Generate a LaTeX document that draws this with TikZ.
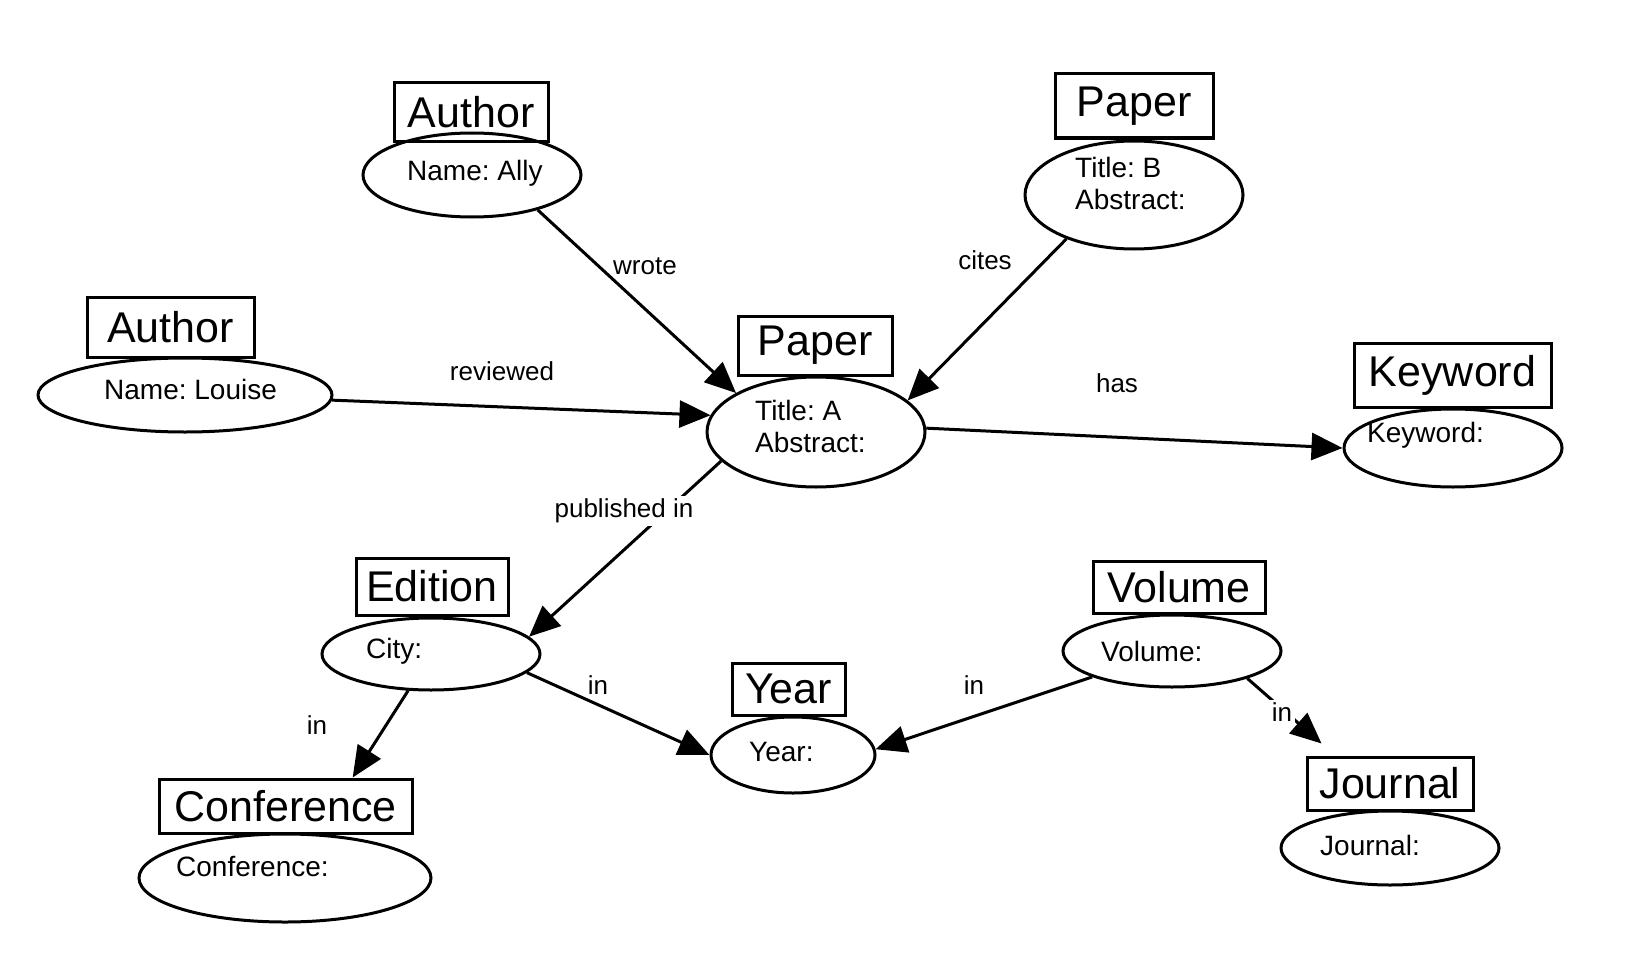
\documentclass[tikz,border=0pt]{standalone}
\usepackage{fontspec}
\setmainfont{Liberation Sans}
\usetikzlibrary{shapes.geometric,arrows.meta}
\begin{document}
\frenchspacing
\begin{tikzpicture}[x=1pt,y=-1pt,
 box/.style={draw, line width=3pt, inner sep=0pt, font=\fontsize{43}{50}\selectfont},
 ell/.style={draw, ellipse, line width=3pt, inner sep=0pt},
 etxt/.style={anchor=west, inner sep=0pt, font=\fontsize{28}{32}\selectfont, align=left},
 lbl/.style={font=\fontsize{26}{30}\selectfont, inner sep=3pt},
 arr/.style={line width=3pt, -{Triangle[length=31pt,width=27pt]}}]
\useasboundingbox (0,0) rectangle (1640,979);

% type boxes
\node[box, minimum width=154pt, minimum height=58pt] (abox) at (471,112) {Author};
\node[box, minimum width=167pt, minimum height=60pt] (lbox) at (170.5,327) {Author};
\node[box, minimum width=154pt, minimum height=59pt] (pabox) at (815,345.5) {Paper};
\node[box, minimum width=158pt, minimum height=64pt] (pbbox) at (1134,106) {Paper};
\node[box, minimum width=197pt, minimum height=64pt] (kbox) at (1452.5,375) {Keyword};
\node[box, minimum width=152pt, minimum height=57pt] (ebox) at (432,586.5) {Edition};
\node[box, minimum width=113pt, minimum height=52pt] (ybox) at (788.5,689) {Year};
\node[box, minimum width=172pt, minimum height=52pt] (vbox) at (1179,587) {Volume};
\node[box, minimum width=253pt, minimum height=54pt] (confbox) at (285.5,806) {Conference};
\node[box, minimum width=166pt, minimum height=53pt] (jbox) at (1390,783.5) {Journal};

% ellipses
\node[ell, minimum width=218pt, minimum height=84pt] (ally) at (472,175) {};
\node[ell, minimum width=294pt, minimum height=74pt] (louise) at (185,395) {};
\node[ell, minimum width=218pt, minimum height=110pt] (pa) at (816,432) {};
\node[ell, minimum width=218pt, minimum height=108pt] (pb) at (1134,195) {};
\node[ell, minimum width=218pt, minimum height=78pt] (kw) at (1453,448) {};
\node[ell, minimum width=218pt, minimum height=72pt] (city) at (431,654) {};
\node[ell, minimum width=164pt, minimum height=76pt] (year) at (793,755) {};
\node[ell, minimum width=218pt, minimum height=72pt] (vol) at (1172,651) {};
\node[ell, minimum width=292pt, minimum height=88pt] (conf) at (285,878) {};
\node[ell, minimum width=218pt, minimum height=74pt] (jour) at (1390,848) {};

% ellipse texts
\node[etxt] (tally) at (407,173) {Name: Ally};
\node[etxt] (tlouise) at (104,389) {Name: Louise};
\node[etxt] (tpa) at (755,426) {Title: A\\Abstract:};
\node[etxt] (tpb) at (1075,183) {Title: B\\Abstract:};
\node[etxt] (tkw) at (1367,435) {Keyword:};
\node[etxt] (tcity) at (366,651) {City:};
\node[etxt] (tyear) at (749,752) {Year:};
\node[etxt] (tvol) at (1101,651) {Volume:};
\node[etxt] (tconf) at (176,866) {Conference:};
\node[etxt] (tjour) at (1320,845) {Journal:};

% connectors
\draw[arr] (ally.-28) -- (pa.154.5);
\draw[arr] (louise.-2) -- (pa.171);
\draw[arr] (pb.213) -- (pa.19);
\draw[arr] (pa.2) -- (kw.180);
\draw[arr] (pa.197) -- (city.10);
\draw[arr] (city.-11) -- (year.180);
\draw[arr] (city.-122.6) -- (confbox.23);
\draw[arr] (vol.198) -- (year.4);
\draw[arr] (vol.-20) -- ([xshift=16pt,yshift=12pt]jbox.north west);

% labels
\node[lbl] (lwrote) at (645,266) {wrote};
\node[lbl] (lrev) at (502,371) {reviewed};
\node[lbl] (lcites) at (985,260) {cites};
\node[lbl] (lhas) at (1117,383) {has};
\node[lbl, fill=white] (lpub) at (624,511) {published in};
\node[lbl] (lin1) at (598,685) {in};
\node[lbl] (lin2) at (317,725) {in};
\node[lbl] (lin3) at (974,685) {in};
\node[lbl, fill=white] (lin4) at (1282,712) {in};
\end{tikzpicture}
\end{document}
